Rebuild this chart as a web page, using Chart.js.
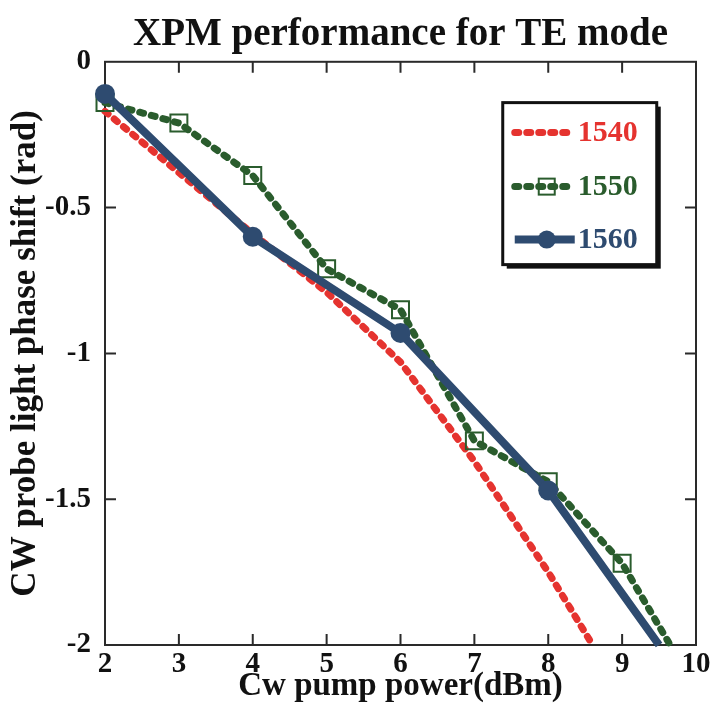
<!DOCTYPE html>
<html>
<head>
<meta charset="utf-8">
<script src="https://cdn.jsdelivr.net/npm/chart.js@4.4.1/dist/chart.umd.min.js"></script>
<style>
  html, body { margin: 0; padding: 0; background: #fff; }
  #wrap { width: 715px; height: 715px; }
</style>
</head>
<body>
<div id="wrap"><canvas id="xpm" width="715" height="715"></canvas></div>
<script>
/* XPM phase shift vs CW pump power, TE mode */
const SERIF = "'Liberation Serif', 'Times New Roman', 'DejaVu Serif', serif";

const seriesNames = ['1540', '1550', '1560'];
const x1540 = [2, 3, 4, 5, 6, 7, 8, 8.6];
const y1540 = [-0.17, -0.38, -0.59, -0.79, -1.03, -1.37, -1.75, -2.0];
const x1550 = [2, 3, 4, 5, 6, 7, 8, 9, 9.65];
const y1550 = [-0.14, -0.21, -0.39, -0.71, -0.85, -1.30, -1.44, -1.72, -2.0];
const x1560 = [2, 4, 6, 8, 9.5];
const y1560 = [-0.11, -0.60, -0.93, -1.47, -2.0];
const xTicks = [2, 3, 4, 5, 6, 7, 8, 9, 10];
const yTicks = [-2, -1.5, -1, -0.5, 0];
const yTickLabels = ['-2', '-1.5', '-1', '-0.5', '0'];

const RED = '#e5332f', GREEN = '#2a5c2d', BLUE = '#2e4b70';

const pts = (xs, ys) => xs.map((x, i) => ({ x, y: ys[i] }));

/* white page */
const bgPlugin = {
  id: 'bg',
  beforeDraw(chart) {
    const { ctx } = chart;
    ctx.save();
    ctx.fillStyle = '#fff';
    ctx.fillRect(0, 0, chart.width, chart.height);
    ctx.restore();
  },
};

/* closed frame with inward ticks on all four sides */
const framePlugin = {
  id: 'frame',
  beforeDatasetsDraw(chart) {
    const { ctx, chartArea: a, scales } = chart;
    const tl = 11;
    ctx.save();
    ctx.strokeStyle = '#2a2a2a';
    ctx.lineWidth = 2;
    ctx.strokeRect(a.left, a.top, a.right - a.left, a.bottom - a.top);
    ctx.beginPath();
    xTicks.slice(1, -1).forEach(v => {
      const px = scales.x.getPixelForValue(v);
      ctx.moveTo(px, a.bottom); ctx.lineTo(px, a.bottom - tl);
      ctx.moveTo(px, a.top);    ctx.lineTo(px, a.top + tl);
    });
    yTicks.slice(1, -1).forEach(v => {
      const py = scales.y.getPixelForValue(v);
      ctx.moveTo(a.left, py);  ctx.lineTo(a.left + tl, py);
      ctx.moveTo(a.right, py); ctx.lineTo(a.right - tl, py);
    });
    ctx.stroke();
    ctx.restore();
  },
};

/* boxed legend in the upper right, with a drop shadow */
const legendPlugin = {
  id: 'boxLegend',
  afterDraw(chart) {
    const { ctx, chartArea: a } = chart;
    const bx = a.left + (a.right - a.left) * 0.673;
    const by = a.top + (a.bottom - a.top) * 0.07;
    const bw = 154, bh = 162;

    ctx.save();
    ctx.fillStyle = '#111';
    ctx.fillRect(bx + 4, by + 4, bw, bh);
    ctx.fillStyle = '#fff';
    ctx.fillRect(bx, by, bw, bh);
    ctx.strokeStyle = '#111';
    ctx.lineWidth = 3;
    ctx.strokeRect(bx, by, bw, bh);

    const rows = [by + 30, by + 84, by + 137];
    chart.data.datasets.forEach((ds, i) => {
      const y = rows[i];
      const x0 = bx + 12, x1 = bx + 72, xm = bx + 44;
      ctx.strokeStyle = ds.borderColor;
      ctx.lineWidth = ds.borderWidth;
      ctx.lineCap = ds.borderCapStyle || 'butt';
      ctx.setLineDash(ds.borderDash || []);
      ctx.beginPath();
      ctx.moveTo(x0, y); ctx.lineTo(x1, y);
      ctx.stroke();
      ctx.setLineDash([]);
      if (ds.pointStyle === 'rect') {
        ctx.lineWidth = 2;
        ctx.strokeRect(xm - 8, y - 8, 16, 16);
      } else if (ds.pointStyle === 'circle') {
        ctx.fillStyle = ds.borderColor;
        ctx.beginPath();
        ctx.arc(xm, y, 9, 0, Math.PI * 2);
        ctx.fill();
      }
      ctx.fillStyle = ds.borderColor;
      ctx.font = `bold 30px ${SERIF}`;
      ctx.textAlign = 'left';
      ctx.textBaseline = 'middle';
      ctx.fillText(seriesNames[i], bx + 75, y + 1);
    });
    ctx.restore();
  },
};

const tickFont = { family: SERIF, size: 29, weight: 'bold' };

new Chart(document.getElementById('xpm'), {
  type: 'line',
  data: {
    datasets: [
      {
        label: seriesNames[0],
        data: pts(x1540, y1540),
        borderColor: RED,
        borderWidth: 7,
        borderDash: [4, 8],
        borderCapStyle: 'round',
        pointRadius: 0,
        clip: false,
        order: 2,
      },
      {
        label: seriesNames[1],
        data: pts(x1550, y1550),
        borderColor: GREEN,
        borderWidth: 7,
        borderDash: [4, 8],
        borderCapStyle: 'round',
        pointStyle: 'rect',
        pointRadius: x1550.map((_, i) => (i === x1550.length - 1 ? 0 : 12)),
        pointBorderWidth: 2,
        pointBorderColor: GREEN,
        pointBackgroundColor: 'rgba(255,255,255,0)',
        clip: false,
        order: 1,
      },
      {
        label: seriesNames[2],
        data: pts(x1560, y1560),
        borderColor: BLUE,
        borderWidth: 8,
        pointStyle: 'circle',
        pointRadius: x1560.map((_, i) => (i === x1560.length - 1 ? 0 : 10)),
        pointBackgroundColor: BLUE,
        pointBorderColor: BLUE,
        pointBorderWidth: 0,
        clip: false,
        order: 0,
      },
    ],
  },
  options: {
    responsive: false,
    animation: false,
    layout: { padding: { top: 0, right: 19, bottom: 0, left: 0 } },
    plugins: {
      legend: { display: false },
      tooltip: { enabled: false },
      title: {
        display: true,
        text: 'XPM performance for TE mode',
        color: '#111',
        fullSize: false,
        font: { family: SERIF, size: 39, weight: 'bold' },
        padding: { top: 12, bottom: 3 },
      },
    },
    scales: {
      x: {
        type: 'linear',
        min: 2,
        max: 10,
        afterBuildTicks: s => { s.ticks = xTicks.map(v => ({ value: v })); },
        ticks: { font: tickFont, color: '#111', padding: 2, maxRotation: 0, autoSkip: false },
        grid: { display: false, drawTicks: false },
        border: { display: false },
        title: {
          display: true,
          text: 'Cw pump power(dBm)',
          color: '#111',
          font: { family: SERIF, size: 33, weight: 'bold' },
          padding: { top: 0, bottom: 9 },
        },
        afterFit: s => { s.height = 70; },
      },
      y: {
        type: 'linear',
        min: -2,
        max: 0,
        afterBuildTicks: s => { s.ticks = yTicks.map(v => ({ value: v })); },
        ticks: {
          font: tickFont,
          color: '#111',
          padding: 14,
          autoSkip: false,
          callback: v => yTickLabels[yTicks.indexOf(v)],
        },
        grid: { display: false, drawTicks: false },
        border: { display: false },
        title: {
          display: true,
          text: 'CW probe light phase shift (rad)',
          color: '#111',
          font: { family: SERIF, size: 35, weight: 'bold' },
          padding: { top: 5, bottom: 0 },
        },
        afterFit: s => { s.width = 105; },
      },
    },
  },
  plugins: [bgPlugin, framePlugin, legendPlugin],
});
</script>
</body>
</html>
